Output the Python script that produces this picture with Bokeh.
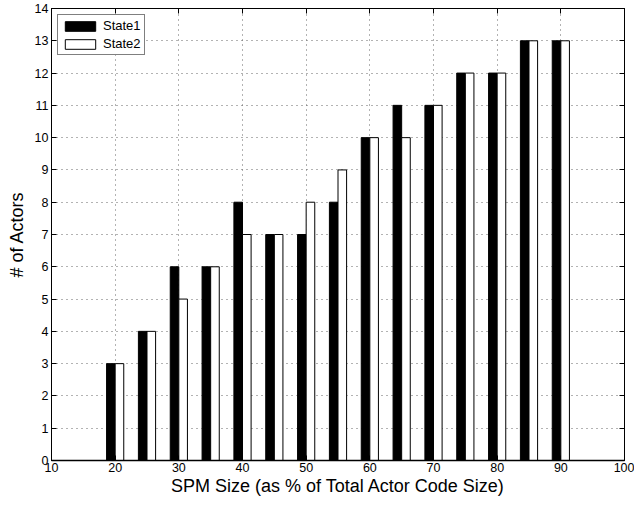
from bokeh.plotting import figure
from bokeh.models import (ColumnDataSource, LinearAxis, FixedTicker, Range1d, Legend,
                          LegendItem, CustomJSTickFormatter)
from bokeh.transform import dodge
from bokeh.embed import file_html
from bokeh.resources import INLINE

# Data
spm_size = [20, 25, 30, 35, 40, 45, 50, 55, 60, 65, 70, 75, 80, 85, 90]
state1 = [3, 4, 6, 6, 8, 7, 7, 8, 10, 11, 11, 12, 12, 13, 13]
state2 = [3, 4, 5, 6, 7, 7, 8, 9, 10, 10, 11, 12, 12, 13, 13]
x_ticks = list(range(10, 101, 10))
y_ticks = list(range(0, 15))

src = ColumnDataSource(dict(x=spm_size, s1=state1, s2=state2))

FONT = "Liberation Sans"
bw = 1.35

p = figure(width=634, height=506, output_backend="svg", toolbar_location=None,
           x_range=Range1d(10, 100), y_range=Range1d(0, 14),
           min_border_left=51, min_border_right=10, min_border_top=8, min_border_bottom=46)

r1 = p.vbar(x=dodge("x", -bw / 2), top="s1", width=bw, source=src,
            fill_color="black", line_color="black", line_width=1)
r2 = p.vbar(x=dodge("x", bw / 2), top="s2", width=bw, source=src,
            fill_color="white", line_color="black", line_width=1)

p.xaxis.ticker = FixedTicker(ticks=x_ticks)
p.yaxis.ticker = FixedTicker(ticks=y_ticks)

for ax in p.xaxis + p.yaxis:
    ax.major_tick_in = 5
    ax.major_tick_out = 0
    ax.minor_tick_in = 0
    ax.minor_tick_out = 0
    ax.axis_line_color = "black"
    ax.major_tick_line_color = "black"
    ax.major_label_text_font = FONT
    ax.major_label_text_font_size = "12.5px"
    ax.major_label_text_color = "black"
    ax.axis_label_text_font = FONT
    ax.axis_label_text_font_size = "18px"
    ax.axis_label_text_font_style = "normal"
    ax.axis_label_text_color = "black"

p.xaxis.axis_label = "SPM Size (as % of Total Actor Code Size)"
p.yaxis.axis_label = "# of Actors"
p.xaxis.major_label_standoff = 2
p.yaxis.major_label_standoff = 3
p.xaxis.axis_label_standoff = 1
p.yaxis.axis_label_standoff = 5
p.xaxis.axis_line_width = 1.5

# Top and right axes (ticks only, no labels)
blank = CustomJSTickFormatter(code="return ''")
top = LinearAxis(ticker=FixedTicker(ticks=x_ticks), major_tick_in=5, major_tick_out=0,
                 minor_tick_in=0, minor_tick_out=0, formatter=blank,
                 major_label_standoff=0, axis_line_color="black")
right = LinearAxis(ticker=FixedTicker(ticks=y_ticks), major_tick_in=5, major_tick_out=0,
                   minor_tick_in=0, minor_tick_out=0, formatter=blank,
                   major_label_standoff=0, axis_line_color="black")
p.add_layout(top, "above")
p.add_layout(right, "right")

p.xgrid.ticker = FixedTicker(ticks=x_ticks)
p.ygrid.ticker = FixedTicker(ticks=y_ticks)
p.grid.grid_line_color = "#666666"
p.grid.grid_line_dash = "1 4"
p.grid.grid_line_width = 1

p.outline_line_color = "black"
p.outline_line_width = 1
p.background_fill_color = "white"
p.border_fill_color = "white"

legend = Legend(items=[LegendItem(label="State1", renderers=[r1]),
                       LegendItem(label="State2", renderers=[r2])],
                location="top_left")
legend.label_text_font = FONT
legend.label_text_font_size = "13px"
legend.label_text_color = "black"
legend.glyph_width = 38
legend.glyph_height = 12
legend.label_height = 12
legend.spacing = 3
legend.padding = 3
legend.margin = 6
legend.label_standoff = 4
legend.border_line_color = "black"
legend.border_line_width = 1
legend.background_fill_alpha = 1
p.add_layout(legend)

open("out.html", "w").write(file_html(p, INLINE))
